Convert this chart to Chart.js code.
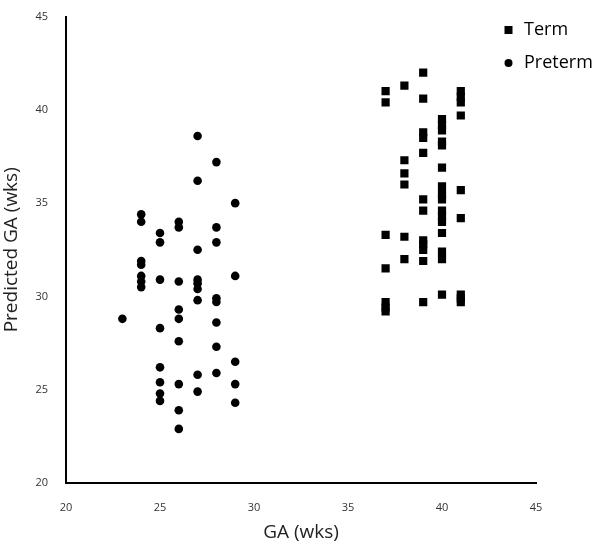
<!DOCTYPE html>
<html>
<head>
<meta charset="utf-8">
<script src="https://cdn.jsdelivr.net/npm/chart.js@4/dist/chart.umd.min.js"></script>
<style>
  html, body { margin: 0; padding: 0; background: #fff; }
  #wrap { width: 600px; height: 544px; }
</style>
</head>
<body>
<div id="wrap"><canvas id="ga-chart"></canvas></div>
<script>
// GA (weeks) and predicted GA for each group
const pretermGA = [
  23,
  24, 24, 24, 24, 24, 24, 24,
  25, 25, 25, 25, 25, 25, 25, 25,
  26, 26, 26, 26, 26, 26, 26, 26, 26,
  27, 27, 27, 27, 27, 27, 27, 27, 27,
  28, 28, 28, 28, 28, 28, 28, 28,
  29, 29, 29, 29, 29
];
const pretermPred = [
  28.8,
  34.4, 34.0, 31.9, 31.7, 31.1, 30.8, 30.5,
  33.4, 32.9, 30.9, 28.3, 26.2, 25.4, 24.8, 24.4,
  34.0, 33.7, 30.8, 29.3, 28.8, 27.6, 25.3, 23.9, 22.9,
  38.6, 36.2, 32.5, 30.9, 30.7, 30.4, 29.8, 25.8, 24.9,
  37.2, 33.7, 32.9, 29.9, 29.7, 28.6, 27.3, 25.9,
  35.0, 31.1, 26.5, 25.3, 24.3
];

const termGA = [
  37, 37, 37, 37, 37, 37, 37,
  38, 38, 38, 38, 38, 38,
  39, 39, 39, 39, 39, 39, 39, 39, 39, 39, 39, 39,
  40, 40, 40, 40, 40, 40, 40, 40, 40, 40, 40, 40, 40, 40, 40, 40,
  41, 41, 41, 41, 41, 41, 41, 41, 41
];
const termPred = [
  41.0, 40.4, 33.3, 31.5, 29.7, 29.4, 29.2,
  41.3, 37.3, 36.6, 36.0, 33.2, 32.0,
  42.0, 40.6, 38.8, 38.5, 37.7, 35.2, 34.6, 33.0, 32.8, 32.5, 31.9, 29.7,
  39.5, 39.2, 38.9, 38.3, 38.1, 36.9, 35.9, 35.5, 35.2, 34.6, 34.3, 34.0, 33.4, 32.4, 32.0, 30.1,
  41.0, 40.7, 40.4, 39.7, 35.7, 34.2, 30.1, 29.9, 29.7
];

const axisTicks = [20, 25, 30, 35, 40, 45];

function toPoints(xs, ys) {
  return xs.map((x, i) => ({ x: x, y: ys[i] }));
}

const FONT = '"Open Sans", "Noto Sans", sans-serif';

// legend drawn inside the plot, top right, one entry per line
const cornerLegend = {
  id: 'cornerLegend',
  afterDraw(chart) {
    const ctx = chart.ctx;
    ctx.save();
    ctx.font = '18px ' + FONT;
    ctx.fillStyle = '#000';
    ctx.textBaseline = 'middle';
    chart.data.datasets.forEach((ds, i) => {
      const y = 30 + i * 33;
      ctx.beginPath();
      if (ds.pointStyle === 'rect') {
        ctx.rect(504.5, y - 4, 8, 8);
      } else {
        ctx.arc(508.5, y, 4, 0, Math.PI * 2);
      }
      ctx.fill();
      ctx.fillText(ds.label, 524, y);
    });
    ctx.restore();
  }
};

new Chart(document.getElementById('ga-chart'), {
  type: 'scatter',
  data: {
    datasets: [
      {
        label: 'Term',
        data: toPoints(termGA, termPred),
        pointStyle: 'rect',
        pointRadius: 5.8,
        backgroundColor: '#000',
        borderWidth: 0
      },
      {
        label: 'Preterm',
        data: toPoints(pretermGA, pretermPred),
        pointStyle: 'circle',
        pointRadius: 4.3,
        backgroundColor: '#000',
        borderWidth: 0
      }
    ]
  },
  options: {
    responsive: true,
    maintainAspectRatio: false,
    animation: false,
    layout: { padding: { top: 12, right: 64, left: 0, bottom: 0 } },
    plugins: {
      legend: { display: false },
      tooltip: { enabled: false }
    },
    scales: {
      x: {
        type: 'linear',
        min: 20,
        max: 45,
        afterBuildTicks: s => { s.ticks = axisTicks.map(v => ({ value: v })); },
        afterFit: s => { s.height = 61; },
        grid: { display: false },
        border: { display: true, color: '#000', width: 2 },
        ticks: { color: '#333', font: { family: FONT, size: 11 }, padding: 10 },
        title: {
          display: true,
          text: 'GA (wks)',
          color: '#222',
          font: { family: FONT, size: 19 },
          padding: { top: 6, bottom: 0 }
        }
      },
      y: {
        type: 'linear',
        min: 20,
        max: 45,
        afterBuildTicks: s => { s.ticks = axisTicks.map(v => ({ value: v })); },
        afterFit: s => { s.width = 66; },
        grid: { display: false },
        border: { display: true, color: '#000', width: 2 },
        ticks: { color: '#333', font: { family: FONT, size: 11 }, padding: 10 },
        title: {
          display: true,
          text: 'Predicted GA (wks)',
          color: '#222',
          font: { family: FONT, size: 19 },
          padding: { top: 0, bottom: 8 }
        }
      }
    }
  },
  plugins: [cornerLegend]
});
</script>
</body>
</html>
